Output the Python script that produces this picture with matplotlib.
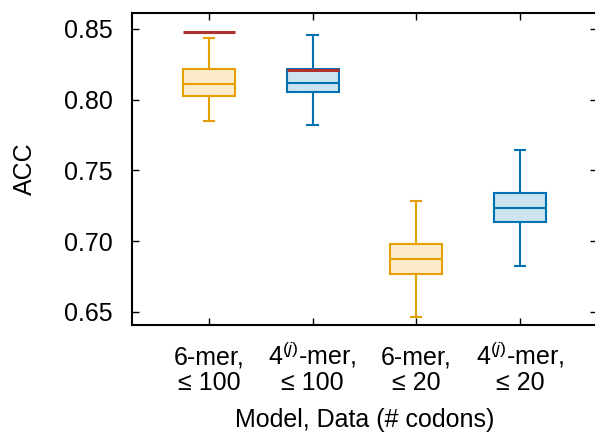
import matplotlib
matplotlib.use("Agg")
import matplotlib.pyplot as plt

plt.rcParams['font.family'] = ['Liberation Sans', 'DejaVu Sans']
plt.rcParams['mathtext.fontset'] = 'custom'
plt.rcParams['mathtext.rm'] = 'Liberation Sans'
plt.rcParams['mathtext.it'] = 'Liberation Sans:italic'

labels = ["6-mer,\n\u2264 100", "4$^{(j)}$-mer,\n\u2264 100",
          "6-mer,\n\u2264 20", "4$^{(j)}$-mer,\n\u2264 20"]
whislo = [0.785, 0.7822, 0.6463, 0.6823]
q1 = [0.8029, 0.8053, 0.6771, 0.7134]
med = [0.8109, 0.8116, 0.6877, 0.7235]
q3 = [0.8219, 0.8217, 0.6978, 0.7341]
whishi = [0.8439, 0.8455, 0.7287, 0.7645]
ref = [0.8477, 0.821, None, None]  # red reference lines
edge_colors = ["#E69F00", "#0072B2", "#E69F00", "#0072B2"]
fill_colors = ["#FBEBCC", "#CCE3F0", "#FBEBCC", "#CCE3F0"]

fig = plt.figure(figsize=(5.95, 4.32), dpi=100)
ax = fig.add_axes([0.222, 0.248, 0.781, 0.722])

positions = [1, 2, 3, 4]
width = 0.5
for i, p in enumerate(positions):
    st = [dict(whislo=whislo[i], q1=q1[i], med=med[i], q3=q3[i], whishi=whishi[i], fliers=[])]
    c = edge_colors[i]
    ax.bxp(st, positions=[p], widths=width, patch_artist=True, showfliers=False,
           boxprops=dict(facecolor=fill_colors[i], edgecolor=c, linewidth=1.5),
           medianprops=dict(color=c, linewidth=1.5),
           whiskerprops=dict(color=c, linewidth=1.5),
           capprops=dict(color=c, linewidth=1.5),
           capwidths=0.1)
    if ref[i] is not None:
        ax.hlines(ref[i], p - width / 2, p + width / 2, color="#B03030", linewidth=2.2, zorder=5)

ax.set_xlim(0.26, 4.74)
ax.set_ylim(0.6408, 0.8613)
ax.set_yticks([0.65, 0.70, 0.75, 0.80, 0.85])
ax.set_yticklabels(["0.65", "0.70", "0.75", "0.80", "0.85"])
ax.set_xticks(positions)
ax.set_xticklabels(labels, linespacing=1.05)
ax.tick_params(direction="in", top=True, right=True, labelsize=18, length=5, width=1)
ax.tick_params(axis="x", pad=46.8)
ax.tick_params(axis="y", pad=14)
for lab in ax.get_xticklabels():
    lab.set_va("baseline")
for s in ax.spines.values():
    s.set_linewidth(1.5)
ax.set_ylabel("ACC", fontsize=18, labelpad=19)
ax.set_xlabel("Model, Data (# codons)", fontsize=18, va="top")
ax.xaxis.set_label_coords(0.5, -0.265)

fig.savefig("out.png", dpi=100)
